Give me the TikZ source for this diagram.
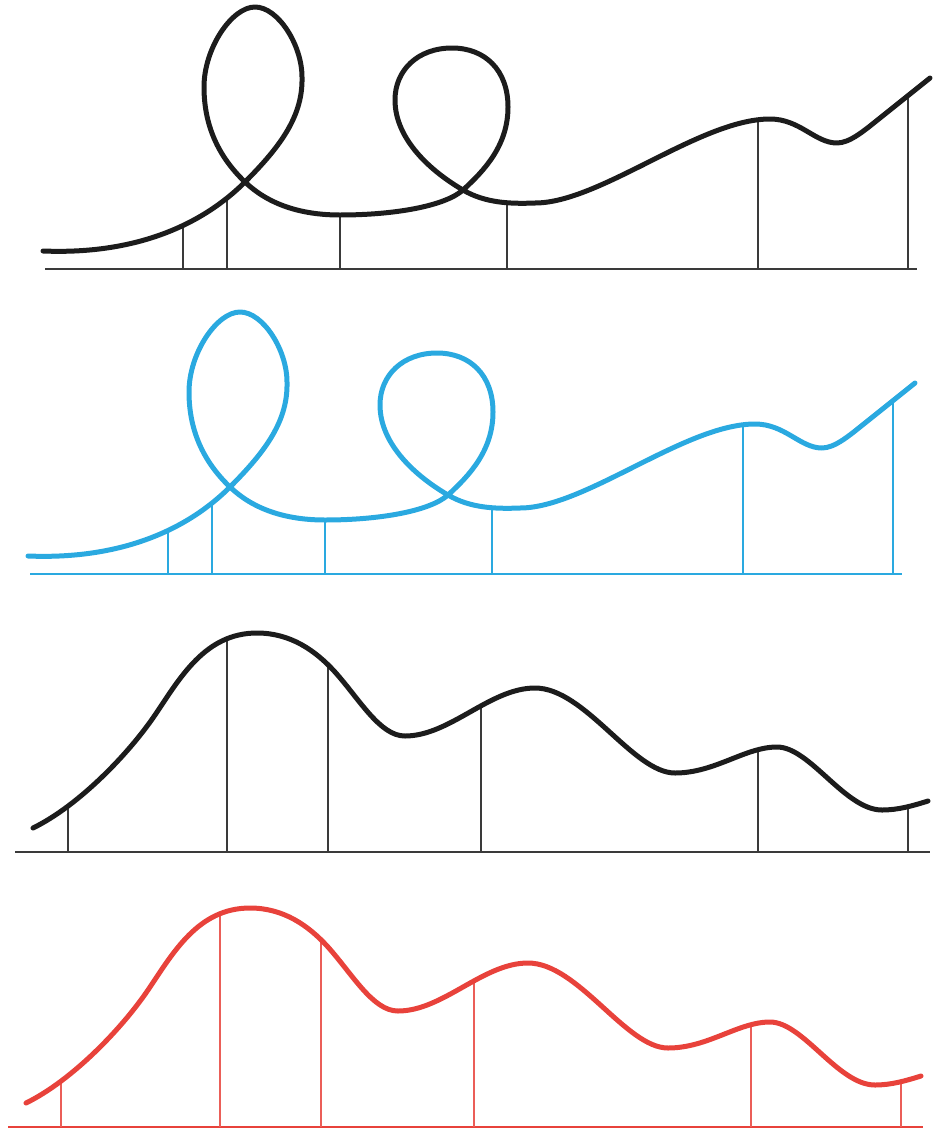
\documentclass[tikz,border=0pt]{standalone}
\definecolor{skyblue}{HTML}{2AA9E0}
\definecolor{redline}{HTML}{E8423B}
\definecolor{inkline}{HTML}{1C1C1C}
\definecolor{postgray}{HTML}{3A3A3A}
\newcommand\looptrackpath{(43,251) .. controls (140,255) and (205,222) .. (245,182)
 .. controls (282,145) and (303,115) .. (302,77)
 .. controls (302,45) and (278,7) .. (255,7)
 .. controls (232,7) and (204,48) .. (204,87)
 .. controls (204,130) and (222,160) .. (245,182)
 .. controls (268,204) and (300,215) .. (340,215)
 .. controls (395,215) and (445,206) .. (463,190)
 .. controls (485,170) and (508,145) .. (508,107)
 .. controls (508,70) and (485,48) .. (452,48)
 .. controls (418,48) and (395,70) .. (395,100)
 .. controls (395,140) and (432,172) .. (463,190)
 .. controls (485,203) and (510,204) .. (535,203)
 .. controls (600,203) and (700,119) .. (770,119)
 .. controls (800,119) and (815,143) .. (837,143)
 .. controls (850,143) and (865,130) .. (880,118)
 -- (930,78)}
\newcommand\wavetrackpath{(33,828) .. controls (80,805) and (130,752) .. (155,715)
 .. controls (180,678) and (205,633) .. (257,633)
 .. controls (290,633) and (315,650) .. (335,672)
 .. controls (360,700) and (380,736) .. (405,736)
 .. controls (450,736) and (490,688) .. (535,688)
 .. controls (585,688) and (633,773) .. (675,773)
 .. controls (715,773) and (745,747) .. (777,747)
 .. controls (810,747) and (845,810) .. (882,810)
 .. controls (898,810) and (912,806) .. (928,801)}
\begin{document}
\begin{tikzpicture}[x=1pt,y=-1pt,
  track/.style={line width=5pt,line cap=round,line join=round},
  ground/.style={line width=2.6pt},
  post/.style={line width=1.9pt}]
\useasboundingbox (0,0) rectangle (935,1138);
% panel 1: black loops
\begin{scope}
  \draw[ground,postgray] (45,269) -- (917,269);
  \foreach \x/\y in {183/225,227/198,340/215,507/202,758/120,908/96}
    \draw[post,postgray] (\x,269) -- (\x,\y);
  \draw[track,inkline] \looptrackpath;
\end{scope}
% panel 2: blue loops
\begin{scope}[shift={(-15,305)}]
  \draw[ground,skyblue] (45,269) -- (917,269);
  \foreach \x/\y in {183/225,227/198,340/215,507/202,758/120,908/96}
    \draw[post,skyblue] (\x,269) -- (\x,\y);
  \draw[track,skyblue] \looptrackpath;
\end{scope}
% panel 3: black waves
\begin{scope}
  \draw[ground,postgray] (15,852) -- (930,852);
  \foreach \x/\y in {68/806,227/639,328/665,481/706,758/750,908/806}
    \draw[post,postgray] (\x,852) -- (\x,\y);
  \draw[track,inkline] \wavetrackpath;
\end{scope}
% panel 4: red waves
\begin{scope}[shift={(-7,275)}]
  \draw[ground,redline] (15,852) -- (930,852);
  \foreach \x/\y in {68/806,227/639,328/665,481/706,758/750,908/806}
    \draw[post,redline!85] (\x,852) -- (\x,\y);
  \draw[track,redline] \wavetrackpath;
\end{scope}
\end{tikzpicture}
\end{document}
